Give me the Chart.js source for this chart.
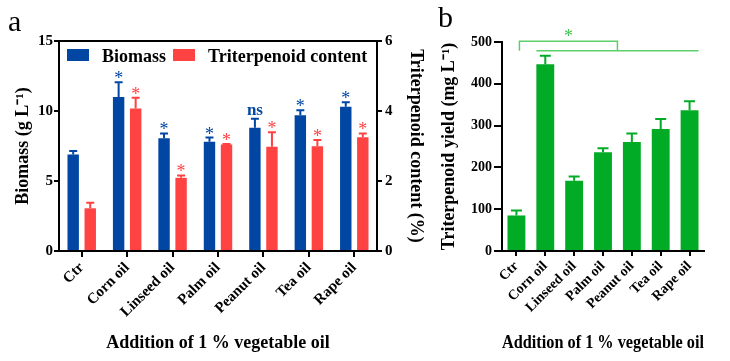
<!DOCTYPE html>
<html lang="en">
<head>
<meta charset="utf-8">
<script src="https://cdn.jsdelivr.net/npm/chart.js@4.4.1/dist/chart.umd.min.js"></script>
<style>
  body { margin: 0; background: #fff; }
  #wrap { position: relative; width: 730px; height: 361px; }
  #wrap canvas { position: absolute; top: 0; }
</style>
</head>
<body>
<div id="wrap">
  <canvas id="chart-a" width="430" height="361" style="left:0"></canvas>
  <canvas id="chart-b" width="300" height="361" style="left:430px"></canvas>
</div>

<script>
  // data
  const oils = ['Ctr', 'Corn oil', 'Linseed oil', 'Palm oil', 'Peanut oil', 'Tea oil', 'Rape oil'];

  const biomass = [6.9, 11.0, 8.05, 7.8, 8.8, 9.7, 10.3];
  const biomassErr = [0.25, 1.05, 0.35, 0.3, 0.65, 0.35, 0.33];
  const biomassSig = ['', '*', '*', '*', 'ns', '*', '*'];

  const content = [1.22, 4.07, 2.09, 3.04, 2.98, 2.99, 3.25];
  const contentErr = [0.16, 0.31, 0.07, 0.02, 0.41, 0.18, 0.11];
  const contentSig = ['', '*', '*', '*', '*', '*', '*'];

  const yieldVals = [85, 447, 168, 236, 261, 292, 337];
  const yieldErr = [12, 20, 10, 10, 20, 24, 21];
  const bracketLevels = [502, 479]; // upper / lower line of the significance bracket (mg L-1)

  const BLUE = '#0046a2';
  const RED = '#ff4242';
  const GREEN = '#02ab26';
  const SERIF = '"Liberation Serif", "Times New Roman", serif';

  Chart.defaults.color = '#000';
  Chart.defaults.font.family = SERIF;
  Chart.defaults.font.weight = 'bold';

  // error bars (upper half only) + significance marks
  const errorBars = {
    id: 'errorBars',
    afterDatasetsDraw(chart) {
      const ctx = chart.ctx;
      ctx.save();
      chart.data.datasets.forEach((ds, i) => {
        const meta = chart.getDatasetMeta(i);
        const yScale = chart.scales[meta.yAxisID];
        meta.data.forEach((bar, j) => {
          const top = yScale.getPixelForValue(ds.data[j] + ds.errors[j]);
          const cap = ds.capWidth / 2;
          ctx.strokeStyle = ds.backgroundColor;
          ctx.lineWidth = 2;
          ctx.beginPath();
          ctx.moveTo(bar.x, bar.y);
          ctx.lineTo(bar.x, top);
          ctx.moveTo(bar.x - cap, top);
          ctx.lineTo(bar.x + cap, top);
          ctx.stroke();

          const mark = ds.sig ? ds.sig[j] : '';
          if (!mark) return;
          ctx.fillStyle = ds.backgroundColor;
          ctx.textAlign = 'center';
          ctx.textBaseline = 'alphabetic';
          if (mark === 'ns') {
            ctx.font = 'bold 17px ' + SERIF;
            ctx.fillText(mark, bar.x, top - 4);
          } else {
            ctx.font = '18px ' + SERIF;
            ctx.fillText(mark, bar.x, top + 2);
          }
        });
      });
      ctx.restore();
    }
  };

  // legend inside the plot area + panel letter
  const panelA = {
    id: 'panelA',
    afterDraw(chart) {
      const ctx = chart.ctx;
      const area = chart.chartArea;
      ctx.save();
      ctx.font = 'bold 18px ' + SERIF;
      ctx.textBaseline = 'alphabetic';
      ctx.textAlign = 'left';
      let x = area.left + 8;
      chart.data.datasets.forEach(ds => {
        ctx.fillStyle = ds.backgroundColor;
        ctx.fillRect(x, area.top + 8, 22, 12);
        ctx.fillStyle = '#000';
        ctx.fillText(ds.label, x + 35, area.top + 21);
        x += 35 + ctx.measureText(ds.label).width + 7;
      });
      ctx.font = '30px ' + SERIF;
      ctx.fillText('a', 8, 31);
      ctx.restore();
    }
  };

  const panelB = {
    id: 'panelB',
    afterDraw(chart) {
      const ctx = chart.ctx;
      const xs = chart.scales.x;
      const ys = chart.scales.y;
      const bars = chart.getDatasetMeta(0).data;
      const yTop = ys.getPixelForValue(bracketLevels[0]);
      const yLow = ys.getPixelForValue(bracketLevels[1]);
      const lowL = bars[1].x - bars[1].width / 2;
      const lowR = bars[bars.length - 1].x + bars[bars.length - 1].width / 2;
      const upL = xs.getPixelForValue(0) + 3;
      const upR = (lowL + lowR) / 2;
      ctx.save();
      ctx.strokeStyle = '#5ccf6b';
      ctx.lineWidth = 1.5;
      ctx.beginPath();
      ctx.moveTo(upL, yLow);
      ctx.lineTo(upL, yTop);
      ctx.lineTo(upR, yTop);
      ctx.lineTo(upR, yLow);
      ctx.moveTo(lowL, yLow);
      ctx.lineTo(lowR, yLow);
      ctx.stroke();
      ctx.fillStyle = '#3cc24f';
      ctx.font = '18px ' + SERIF;
      ctx.textAlign = 'center';
      ctx.fillText('*', (upL + upR) / 2, yTop + 1);
      ctx.fillStyle = '#000';
      ctx.textAlign = 'left';
      ctx.font = '30px ' + SERIF;
      ctx.fillText('b', 8, 27);
      ctx.restore();
    }
  };

  const axisBase = {
    grid: { drawOnChartArea: false, color: '#000', lineWidth: 2, offset: false },
    border: { color: '#000', width: 2 }
  };

  function drawCharts() {
    new Chart(document.getElementById('chart-a'), {
      type: 'bar',
      data: {
        labels: oils,
        datasets: [
          { label: 'Biomass', data: biomass, errors: biomassErr, sig: biomassSig, capWidth: 8,
            backgroundColor: BLUE, yAxisID: 'y', categoryPercentage: 0.75, barPercentage: 0.67 },
          { label: 'Triterpenoid content', data: content, errors: contentErr, sig: contentSig, capWidth: 8,
            backgroundColor: RED, yAxisID: 'y1', categoryPercentage: 0.75, barPercentage: 0.67 }
        ]
      },
      options: {
        responsive: false,
        animation: false,
        layout: { padding: { top: 41, left: 0, right: 0, bottom: 0 } },
        plugins: { legend: { display: false }, tooltip: { enabled: false } },
        scales: {
          x: {
            ...axisBase,
            grid: { ...axisBase.grid, tickLength: 6 },
            ticks: { font: { size: 15 }, minRotation: 45, maxRotation: 45, autoSkip: false, padding: 2 },
            title: { display: true, text: 'Addition of 1 % vegetable oil', font: { size: 18 }, padding: { top: 0, bottom: 7 } },
            afterFit: s => { s.height = 110; }
          },
          xTop: {
            type: 'category', position: 'top', display: true,
            grid: { drawOnChartArea: false, drawTicks: false },
            border: { color: '#000', width: 2 },
            ticks: { display: false },
            afterFit: s => { s.height = 0; }
          },
          y: {
            ...axisBase,
            grid: { ...axisBase.grid, tickLength: 5 },
            position: 'left', min: 0, max: 15,
            ticks: { stepSize: 5, font: { size: 15 }, padding: 1 },
            title: { display: true, text: 'Biomass (g L⁻¹)', font: { size: 18 }, padding: { top: 13, bottom: 0 } },
            afterFit: s => { s.width = 59; }
          },
          y1: {
            ...axisBase,
            grid: { ...axisBase.grid, tickLength: 5 },
            position: 'right', min: 0, max: 6,
            ticks: { stepSize: 2, font: { size: 15 }, padding: 3 },
            title: { display: true, text: 'Triterpenoid content (%)', font: { size: 18 }, padding: { top: 4, bottom: 0 } },
            afterFit: s => { s.width = 53; }
          }
        }
      },
      plugins: [errorBars, panelA]
    });

    new Chart(document.getElementById('chart-b'), {
      type: 'bar',
      data: {
        labels: oils,
        datasets: [
          { label: 'Triterpenoid yield', data: yieldVals, errors: yieldErr, capWidth: 11,
            backgroundColor: GREEN, categoryPercentage: 1, barPercentage: 0.62 }
        ]
      },
      options: {
        responsive: false,
        animation: false,
        layout: { padding: { top: 42, left: 0, right: 26, bottom: 0 } },
        plugins: { legend: { display: false }, tooltip: { enabled: false } },
        scales: {
          x: {
            ...axisBase,
            grid: { ...axisBase.grid, tickLength: 5 },
            ticks: { font: { size: 14 }, minRotation: 45, maxRotation: 45, autoSkip: false, padding: 2 },
            title: { display: true, text: 'Addition of 1 % vegetable oil', font: { size: 18 }, padding: { top: 0, bottom: 7 } },
            afterFit: s => { s.height = 110; }
          },
          y: {
            ...axisBase,
            grid: { ...axisBase.grid, tickLength: 8 },
            min: 0, max: 500,
            ticks: { stepSize: 100, font: { size: 14 }, padding: 2 },
            title: { display: true, text: 'Triterpenoid yield (mg L⁻¹)', font: { size: 18 }, padding: { top: 9, bottom: 0 } },
            afterFit: s => { s.width = 72; }
          }
        }
      },
      plugins: [errorBars, panelB]
    });
  }

  // make sure the serif face is ready before the canvases are painted
  Promise.all([
    document.fonts.load('bold 18px "Liberation Serif"'),
    document.fonts.load('18px "Liberation Serif"')
  ]).then(drawCharts, drawCharts);
</script>
</body>
</html>
